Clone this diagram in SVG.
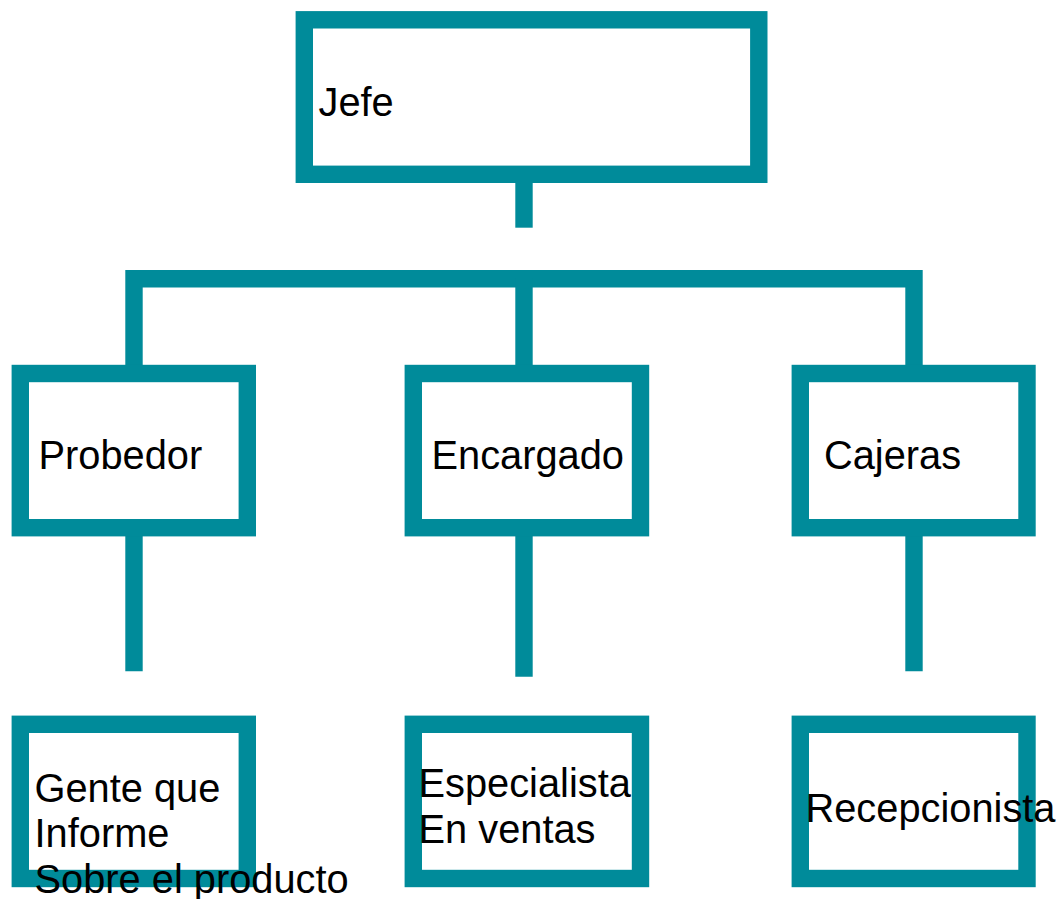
<svg xmlns="http://www.w3.org/2000/svg" width="1056" height="899" viewBox="0 0 1056 899">
<style>
.box{fill:#fff;stroke:#008B9A;stroke-width:17.4}
.con{fill:none;stroke:#008B9A;stroke-width:17.4;stroke-linecap:butt;stroke-linejoin:miter}
.lbl{font-family:"Liberation Sans",Arial,sans-serif;font-size:39.8px;fill:#000}
</style>
<rect width="1056" height="899" fill="#fff"/>
<g id="connectors">
<path class="con" d="M524,183 V227.7"/>
<path class="con" d="M134,365 V278.7 H914 V365"/>
<path class="con" d="M524,278.7 V365"/>
<path class="con" d="M134,536 V671.3"/>
<path class="con" d="M524,536 V676.7"/>
<path class="con" d="M914,536 V671.3"/>
</g>
<g id="jefe">
<rect class="box" x="304.3" y="19.8" width="454.5" height="154.5"/>
<text class="lbl" x="318.5" y="116">Jefe</text>
</g>
<g id="probedor">
<rect class="box" x="20.3" y="373.5" width="227" height="154.2"/>
<text class="lbl" x="38.5" y="469">Probedor</text>
</g>
<g id="encargado">
<rect class="box" x="413.3" y="373.5" width="227.2" height="154.2"/>
<text class="lbl" x="431.5" y="469">Encargado</text>
</g>
<g id="cajeras">
<rect class="box" x="800.3" y="373.5" width="226.7" height="154.2"/>
<text class="lbl" x="824" y="468.5">Cajeras</text>
</g>
<g id="gente">
<rect class="box" x="20.3" y="724.3" width="227" height="154.2"/>
<text class="lbl" x="34.5" y="801.5">Gente que</text>
<text class="lbl" x="34.5" y="847">Informe</text>
<text class="lbl" x="34.5" y="892.5">Sobre el producto</text>
</g>
<g id="especialista">
<rect class="box" x="413.3" y="724.3" width="227.2" height="154.2"/>
<text class="lbl" x="418.5" y="797">Especialista</text>
<text class="lbl" x="418.5" y="843">En ventas</text>
</g>
<g id="recepcionista">
<rect class="box" x="800.3" y="724.3" width="226.7" height="154.2"/>
<text class="lbl" x="805.5" y="821.5">Recepcionista</text>
</g>
</svg>
